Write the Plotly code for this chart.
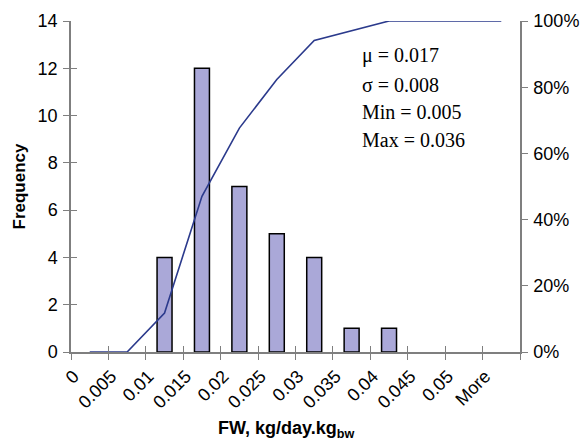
import plotly.graph_objects as go
import numpy as np

bins = ["0", "0.005", "0.01", "0.015", "0.02", "0.025", "0.03", "0.035",
        "0.04", "0.045", "0.05", "More"]
frequency = [0, 0, 4, 12, 7, 5, 4, 1, 1, 0, 0, 0]
cumulative = list(np.cumsum(frequency) / np.sum(frequency))
boundaries = [i + 0.5 for i in range(len(bins) - 1)]
freq_ticks = [0, 2, 4, 6, 8, 10, 12, 14]
stats_lines = ["\u03bc = 0.017", "\u03c3 = 0.008", "Min = 0.005", "Max = 0.036"]

AX = "#7f7f7f"
SANS = "Liberation Sans, Arial, sans-serif"

fig = go.Figure()
fig.add_trace(go.Bar(
    x=bins, y=frequency, width=0.4,
    marker=dict(color="#aaa8d8",
                line=dict(color="black", width=[1.5 if v > 0 else 0 for v in frequency])),
    showlegend=False,
))
fig.add_trace(go.Scatter(
    x=bins, y=cumulative, yaxis="y2", mode="lines",
    line=dict(color="#2b3a8c", width=1.6), showlegend=False,
))

fig.update_layout(
    width=584, height=447,
    margin=dict(l=71, r=64, t=21, b=95),
    paper_bgcolor="white", plot_bgcolor="white",
    font=dict(family=SANS, size=18, color="black"),
    bargap=0.6,
    xaxis=dict(
        type="category", categoryorder="array", categoryarray=bins,
        range=[-0.5, len(bins) - 0.5],
        tickson="boundaries", ticks="outside", ticklen=6, tickwidth=1.3, tickcolor=AX,
        showline=True, linecolor=AX, linewidth=1.5,
        tickangle=-45, ticklabelshift=-16, ticklabelstandoff=5,
        tickfont=dict(size=18),
        showgrid=False, zeroline=False, automargin=False,
    ),
    xaxis2=dict(
        overlaying="x", range=[-0.5, len(bins) - 0.5],
        tickvals=boundaries, ticks="inside", ticklen=6, tickwidth=1.3, tickcolor=AX,
        showticklabels=False, showline=False, showgrid=False, zeroline=False,
    ),
    yaxis=dict(
        range=[0, 14], tickvals=freq_ticks,
        ticks="outside", ticklen=6, tickwidth=1.3, tickcolor=AX,
        showline=True, linecolor=AX, linewidth=1.5,
        tickfont=dict(size=18), ticklabelstandoff=2,
        title=dict(text="<b>Frequency</b>", font=dict(size=17), standoff=8),
        showgrid=False, zeroline=False, automargin=False,
    ),
    yaxis3=dict(
        overlaying="y", range=[0, 14], tickvals=freq_ticks,
        ticks="inside", ticklen=6, tickwidth=1.3, tickcolor=AX,
        showticklabels=False, showline=False, showgrid=False, zeroline=False,
    ),
    yaxis2=dict(
        overlaying="y", side="right", range=[0, 1], dtick=0.2, tickformat=".0%",
        ticks="outside", ticklen=6, tickwidth=1.3, tickcolor=AX,
        showline=True, linecolor=AX, linewidth=1.5,
        tickfont=dict(size=18), ticklabelstandoff=2,
        showgrid=False, zeroline=False, automargin=False,
    ),
)

fig.add_trace(go.Scatter(x=[0], y=[0], xaxis="x2", yaxis="y3", mode="markers",
                         marker=dict(opacity=0), hoverinfo="skip", showlegend=False))

# x-axis title
fig.add_annotation(
    text="<b>FW, kg/day.kg<sub>bw</sub></b>", xref="paper", yref="paper",
    x=0.479, y=-0.235, xanchor="center", yanchor="middle", showarrow=False,
    font=dict(family=SANS, size=18, color="black"),
)

ys = [0.896, 0.808, 0.724, 0.639]
for txt, yy in zip(stats_lines, ys):
    fig.add_annotation(
        text=txt, xref="paper", yref="paper", x=0.644, y=yy,
        xanchor="left", yanchor="middle", showarrow=False,
        font=dict(family="Liberation Serif, Times New Roman, serif", size=20, color="black"),
    )

fig.write_html("out.html")
